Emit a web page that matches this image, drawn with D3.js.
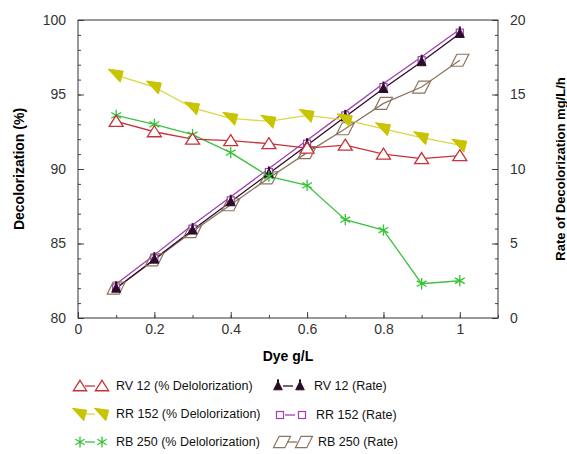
<!DOCTYPE html>
<html>
<head>
<meta charset="utf-8">
<script src="https://cdn.jsdelivr.net/npm/d3@7"></script>
<style>
  body { margin: 0; background: #fff; }
  text { font-family: "Liberation Sans", Arial, sans-serif; }
</style>
</head>
<body>
<div id="chart"></div>
<script>
// dye concentration g/L
var dye = [0.1, 0.2, 0.3, 0.4, 0.5, 0.6, 0.7, 0.8, 0.9, 1.0];

// % decolorization (left axis)
var rv12Pct  = [93.2, 92.5, 92.0, 91.9, 91.7, 91.4, 91.6, 91.0, 90.7, 90.9];
var rr152Pct = [96.3, 95.5, 94.1, 93.4, 93.2, 93.6, 93.3, 92.7, 92.1, 91.6];
var rb250Pct = [93.6, 93.0, 92.3, 91.1, 89.5, 88.9, 86.6, 85.9, 82.3, 82.5];

// rate mg/L/h (right axis)
var rv12Rate  = [2.0, 3.95, 5.9, 7.8, 9.7, 11.6, 13.5, 15.4, 17.2, 19.1];
var rr152Rate = [2.05, 4.0, 6.0, 7.9, 9.8, 11.7, 13.6, 15.5, 17.3, 19.15];
var rb250Rate = [2.0, 3.9, 5.8, 7.6, 9.4, 11.1, 12.7, 14.4, 15.5, 17.3];

var xTicksMajor = [0, 0.2, 0.4, 0.6, 0.8, 1];
var leftTicks = [80, 85, 90, 95, 100];
var rightTicks = [0, 5, 10, 15, 20];

var svgWidth = 567, svgHeight = 454;
var margin = { top: 20, left: 78, right: 69, bottom: 136 };
var width = svgWidth - margin.left - margin.right;
var height = svgHeight - margin.top - margin.bottom;

var svg = d3.select('#chart').append('svg')
  .attr('width', svgWidth)
  .attr('height', svgHeight);

var chart = svg.append('g')
  .attr('transform', `translate(${margin.left}, ${margin.top})`);

var x = d3.scaleLinear().domain([0, 1.1]).range([0, width]);
var yL = d3.scaleLinear().domain([80, 100]).range([height, 0]);
var yR = d3.scaleLinear().domain([0, 20]).range([height, 0]);

var fmt = d3.format('~g');

// minor ticks
chart.append('g').attr('transform', `translate(0,${height})`)
  .call(d3.axisBottom(x).tickValues(d3.range(0, 1.11, 0.1)).tickSize(-3).tickFormat(''));
chart.append('g')
  .call(d3.axisLeft(yL).tickValues(d3.range(80, 100.1, 1)).tickSize(-3).tickFormat(''));
chart.append('g').attr('transform', `translate(${width},0)`)
  .call(d3.axisRight(yR).tickValues(d3.range(0, 20.1, 1)).tickSize(-3).tickFormat(''));

// major ticks with labels
chart.append('g').attr('class', 'axis').attr('transform', `translate(0,${height})`)
  .call(d3.axisBottom(x).tickValues(xTicksMajor).tickSize(-6).tickPadding(6).tickFormat(fmt));
chart.append('g').attr('class', 'axis')
  .call(d3.axisLeft(yL).tickValues(leftTicks).tickSize(-6).tickPadding(12));
chart.append('g').attr('class', 'axis').attr('transform', `translate(${width},0)`)
  .call(d3.axisRight(yR).tickValues(rightTicks).tickSize(-6).tickPadding(12));

chart.selectAll('.domain').remove();
chart.selectAll('.tick line').attr('stroke', '#444');
chart.selectAll('.axis text')
  .attr('font-size', '14px')
  .attr('fill', '#333')
  .style('font-family', '"Liberation Sans", Arial, sans-serif');

// frame
chart.append('rect')
  .attr('width', width).attr('height', height)
  .attr('fill', 'none').attr('stroke', '#333').attr('stroke-width', 1);

// marker drawing
function marker(g, type, size) {
  var s = size || 1;
  if (type === 'tri') {
    g.append('path').attr('d', `M0,${-6*s}L${7*s},${5*s}L${-7*s},${5*s}Z`)
      .attr('fill', '#fff').attr('stroke', '#c8323a').attr('stroke-width', 1.3);
  } else if (type === 'down') {
    g.append('path').attr('d', `M${-8*s},${-6*s}L${7*s},${-4*s}L${4*s},${7*s}Z`)
      .attr('fill', '#c8c400').attr('stroke', '#c8c400').attr('stroke-width', 1);
  } else if (type === 'star') {
    g.append('path').attr('d', d3.symbol(d3.symbolAsterisk, 90 * s * s)())
      .attr('fill', 'none').attr('stroke', '#33c433').attr('stroke-width', 1.3);
  } else if (type === 'black') {
    g.append('path').attr('d', `M0,${-5*s}L${4.5*s},${4*s}L${-4.5*s},${4*s}Z`)
      .attr('fill', '#2a0d26').attr('stroke', '#2a0d26').attr('stroke-width', 1);
    g.append('rect').attr('x', -1).attr('y', -7 * s).attr('width', 2).attr('height', 3 * s)
      .attr('fill', '#2a0d26');
  } else if (type === 'square') {
    g.append('rect').attr('x', -3.5).attr('y', -3.5).attr('width', 7).attr('height', 7)
      .attr('fill', '#fff').attr('stroke', '#a040b0').attr('stroke-width', 1.2);
  } else if (type === 'para') {
    g.append('path').attr('d', `M${-3*s},${-6*s}L${9*s},${-6*s}L${3*s},${6*s}L${-9*s},${6*s}Z`)
      .attr('fill', 'none').attr('stroke', '#8a7560').attr('stroke-width', 1.2);
  }
}

var series = [
  { name: 'RB 250 (Rate)', vals: rb250Rate, scale: yR, line: '#8a7560', type: 'para', off: 0 },
  { name: 'RR 152 (Rate)', vals: rr152Rate, scale: yR, line: '#a040b0', type: 'square', off: -2 },
  { name: 'RV 12 (Rate)', vals: rv12Rate, scale: yR, line: '#2a0d26', type: 'black', off: 0 },
  { name: 'RB 250 (% Delolorization)', vals: rb250Pct, scale: yL, line: '#40c040', type: 'star', off: 0 },
  { name: 'RV 12 (% Delolorization)', vals: rv12Pct, scale: yL, line: '#c8323a', type: 'tri', off: 0 },
  { name: 'RR 152 (% Delolorization)', vals: rr152Pct, scale: yL, line: '#d8d840', type: 'down', off: 0 }
];

series.forEach(function(s) {
  var line = d3.line()
    .x((d, i) => x(dye[i]) + s.off)
    .y(d => s.scale(d) + s.off);
  chart.append('path')
    .datum(s.vals)
    .attr('d', line)
    .attr('fill', 'none')
    .attr('stroke', s.line)
    .attr('stroke-width', 1.3);
});

series.forEach(function(s) {
  chart.selectAll(null)
    .data(s.vals)
    .enter()
    .append('g')
    .attr('transform', (d, i) => `translate(${x(dye[i])},${s.scale(d)})`)
    .each(function() { marker(d3.select(this), s.type); });
});

// axis titles
svg.append('text')
  .attr('transform', `translate(24, ${margin.top + height / 2}) rotate(-90)`)
  .attr('text-anchor', 'middle')
  .attr('font-size', '14px').attr('font-weight', 'bold')
  .text('Decolorization (%)');

svg.append('text')
  .attr('transform', `translate(565, ${margin.top + height / 2}) rotate(-90)`)
  .attr('text-anchor', 'middle')
  .attr('font-size', '13px').attr('font-weight', 'bold')
  .text('Rate of Decolorization mg/L/h');

svg.append('text')
  .attr('x', 288).attr('y', 361)
  .attr('text-anchor', 'middle')
  .attr('font-size', '14px').attr('font-weight', 'bold')
  .text('Dye g/L');

// legend
var legendItems = [
  { type: 'tri', line: '#c8323a', label: 'RV 12 (% Delolorization)', x: 80, y: 390 },
  { type: 'down', line: '#d8d840', label: 'RR 152 (% Delolorization)', x: 80, y: 418 },
  { type: 'star', line: '#40c040', label: 'RB 250 (% Delolorization)', x: 80, y: 446 },
  { type: 'black', line: '#2a0d26', label: 'RV 12 (Rate)', x: 278, y: 390 },
  { type: 'square', line: '#a040b0', label: 'RR 152 (Rate)', x: 280, y: 419 },
  { type: 'para', line: '#8a7560', label: 'RB 250 (Rate)', x: 282, y: 446 }
];

var legend = svg.append('g');
legendItems.forEach(function(l) {
  var g = legend.append('g').attr('transform', `translate(${l.x},${l.y - 4})`);
  g.append('line').attr('x1', 5).attr('x2', 15).attr('y1', 0).attr('y2', 0)
    .attr('stroke', l.line).attr('stroke-width', 1.3);
  marker(g.append('g'), l.type, 0.95);
  marker(g.append('g').attr('transform', 'translate(22,0)'), l.type, 0.95);
  g.append('text').attr('x', 36).attr('y', 4)
    .attr('font-size', '12.5px').attr('fill', '#111')
    .text(l.label);
});
</script>
</body>
</html>
